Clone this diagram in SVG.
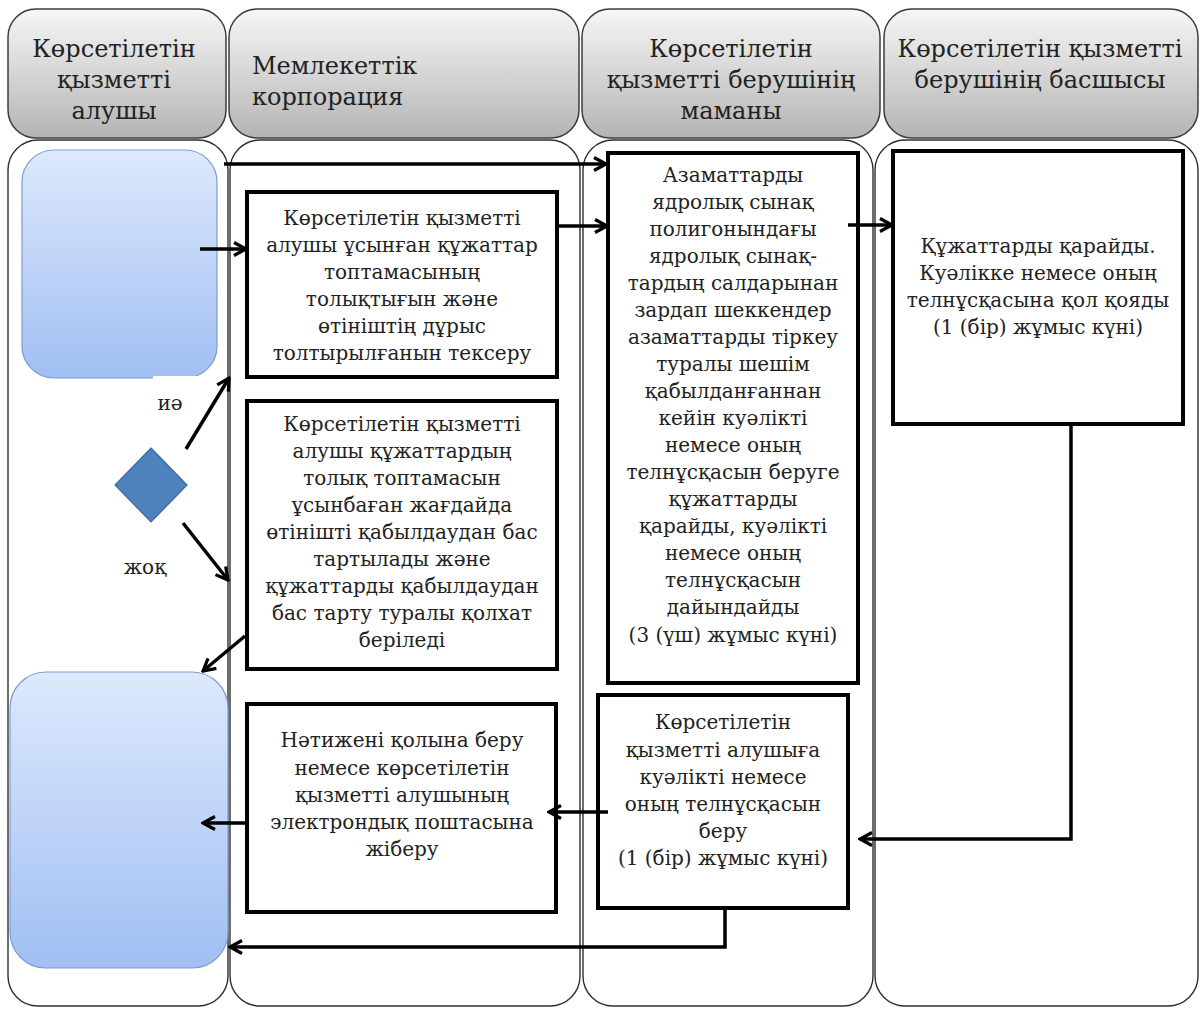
<svg xmlns="http://www.w3.org/2000/svg" width="1200" height="1009" viewBox="0 0 1200 1009">
  <defs>
    <linearGradient id="hdrFill" x1="0" y1="0" x2="0" y2="1">
      <stop offset="0" stop-color="#f7f7f7"/>
      <stop offset="1" stop-color="#b4b4b4"/>
    </linearGradient>
    <linearGradient id="blueFill" x1="0" y1="0" x2="0" y2="1">
      <stop offset="0" stop-color="#dde9fc"/>
      <stop offset="1" stop-color="#a1bff3"/>
    </linearGradient>
    <marker id="arrow" markerUnits="userSpaceOnUse" markerWidth="18" markerHeight="18" viewBox="0 0 18 18" refX="16" refY="9" orient="auto">
      <path d="M4,2.5 L16,9 L4,15.5" fill="none" stroke="#000" stroke-width="3.2" stroke-linejoin="miter"/>
    </marker>
    <style>
      .hdr { fill: url(#hdrFill); stroke: #3c3c3c; stroke-width: 1.5; }
      .lane { fill: #ffffff; stroke: #2f2f2f; stroke-width: 1.4; }
      .term { fill: url(#blueFill); stroke: #7d9ccc; stroke-width: 1.2; }
      .box { fill: #ffffff; stroke: #000; stroke-width: 4; }
      .dec { fill: #4f81bd; stroke: #3d6aa0; stroke-width: 1.2; }
      .conn { fill: none; stroke: #000; stroke-width: 3.5; }
      .ht { font-family: "DejaVu Serif", "Liberation Serif", serif; font-size: 24px; fill: #222; }
      .bt { font-family: "DejaVu Serif", "Liberation Serif", serif; font-size: 20px; fill: #222; text-anchor: middle; }
      .c { text-anchor: middle; }
    </style>
  </defs>

  <rect width="1200" height="1009" fill="#ffffff"/>

  <!-- swimlane headers -->
  <g id="header-recipient">
    <rect class="hdr" x="8" y="9" width="218" height="129" rx="28"/>
    <text class="ht c" x="114" y="57">Көрсетілетін</text>
    <text class="ht c" x="114" y="88">қызметті</text>
    <text class="ht c" x="114" y="119">алушы</text>
  </g>
  <g id="header-corporation">
    <rect class="hdr" x="229" y="9" width="350" height="129" rx="28"/>
    <text class="ht" x="252" y="74">Мемлекеттік</text>
    <text class="ht" x="252" y="105">корпорация</text>
  </g>
  <g id="header-specialist">
    <rect class="hdr" x="582" y="9" width="298" height="129" rx="28"/>
    <text class="ht c" x="731" y="57">Көрсетілетін</text>
    <text class="ht c" x="731" y="88">қызметті берушінің</text>
    <text class="ht c" x="731" y="119">маманы</text>
  </g>
  <g id="header-head">
    <rect class="hdr" x="884" y="9" width="314" height="129" rx="28"/>
    <text class="ht c" x="1040" y="57">Көрсетілетін қызметті</text>
    <text class="ht c" x="1040" y="88">берушінің басшысы</text>
  </g>

  <!-- swimlane bodies -->
  <g id="lane-recipient"><rect class="lane" x="8" y="140" width="220" height="866" rx="30"/></g>
  <g id="lane-corporation"><rect class="lane" x="230" y="140" width="350" height="866" rx="30"/></g>
  <g id="lane-specialist"><rect class="lane" x="583" y="140" width="290" height="866" rx="30"/></g>
  <g id="lane-head"><rect class="lane" x="875" y="140" width="323" height="866" rx="30"/></g>

  <!-- recipient start / end terminals -->
  <g id="start">
    <rect class="term" x="22" y="150" width="195" height="228" rx="32"/>
  </g>
  <g id="finish">
    <rect class="term" x="10" y="672" width="218" height="296" rx="36"/>
  </g>

  <!-- decision -->
  <g id="decision">
    <polygon class="dec" points="151,448 187,485 151,522 115,485"/>
  </g>
  <g id="label-yes">
    <rect x="153" y="376" width="44" height="42" fill="#ffffff"/>
    <text class="bt" x="170" y="410">иә</text>
  </g>
  <g id="label-no">
    <text class="bt" x="145" y="574">жоқ</text>
  </g>

  <!-- process boxes -->
  <g id="check-docs">
    <rect class="box" x="247" y="192" width="310" height="185"/>
    <text class="bt" x="402" y="225">Көрсетілетін қызметті</text>
    <text class="bt" x="402" y="252">алушы ұсынған құжаттар</text>
    <text class="bt" x="402" y="279">топтамасының</text>
    <text class="bt" x="402" y="306">толықтығын және</text>
    <text class="bt" x="402" y="333">өтініштің дұрыс</text>
    <text class="bt" x="402" y="360">толтырылғанын тексеру</text>
  </g>
  <g id="refusal">
    <rect class="box" x="247" y="401" width="310" height="268"/>
    <text class="bt" x="402" y="431">Көрсетілетін қызметті</text>
    <text class="bt" x="402" y="458">алушы құжаттардың</text>
    <text class="bt" x="402" y="485">толық топтамасын</text>
    <text class="bt" x="402" y="512">ұсынбаған жағдайда</text>
    <text class="bt" x="402" y="539">өтінішті қабылдаудан бас</text>
    <text class="bt" x="402" y="566">тартылады және</text>
    <text class="bt" x="402" y="593">құжаттарды қабылдаудан</text>
    <text class="bt" x="402" y="620">бас тарту туралы қолхат</text>
    <text class="bt" x="402" y="647">беріледі</text>
  </g>
  <g id="deliver-result">
    <rect class="box" x="247" y="704" width="309" height="208"/>
    <text class="bt" x="402" y="747">Нәтижені қолына беру</text>
    <text class="bt" x="402" y="775">немесе көрсетілетін</text>
    <text class="bt" x="402" y="802">қызметті алушының</text>
    <text class="bt" x="402" y="829">электрондық поштасына</text>
    <text class="bt" x="402" y="856">жіберу</text>
  </g>
  <g id="prepare-certificate">
    <rect class="box" x="608" y="153" width="250" height="530"/>
    <text class="bt" x="733" y="182">Азаматтарды</text>
    <text class="bt" x="733" y="209">ядролық сынақ</text>
    <text class="bt" x="733" y="236">полигонындағы</text>
    <text class="bt" x="733" y="263">ядролық сынақ-</text>
    <text class="bt" x="733" y="290">тардың салдарынан</text>
    <text class="bt" x="733" y="317">зардап шеккендер</text>
    <text class="bt" x="733" y="344">азаматтарды тіркеу</text>
    <text class="bt" x="733" y="371">туралы шешім</text>
    <text class="bt" x="733" y="398">қабылданғаннан</text>
    <text class="bt" x="733" y="425">кейін куәлікті</text>
    <text class="bt" x="733" y="452">немесе оның</text>
    <text class="bt" x="733" y="479">телнұсқасын беруге</text>
    <text class="bt" x="733" y="506">құжаттарды</text>
    <text class="bt" x="733" y="533">қарайды, куәлікті</text>
    <text class="bt" x="733" y="560">немесе оның</text>
    <text class="bt" x="733" y="587">телнұсқасын</text>
    <text class="bt" x="733" y="614">дайындайды</text>
    <text class="bt" x="733" y="642">(3 (үш) жұмыс күні)</text>
  </g>
  <g id="sign-certificate">
    <rect class="box" x="893" y="151" width="290" height="273"/>
    <text class="bt" x="1038" y="253">Құжаттарды қарайды.</text>
    <text class="bt" x="1038" y="280">Куәлікке немесе оның</text>
    <text class="bt" x="1038" y="307">телнұсқасына қол қояды</text>
    <text class="bt" x="1038" y="334">(1 (бір) жұмыс күні)</text>
  </g>
  <g id="issue-certificate">
    <rect class="box" x="598" y="695" width="250" height="213"/>
    <text class="bt" x="723" y="729">Көрсетілетін</text>
    <text class="bt" x="723" y="757">қызметті алушыға</text>
    <text class="bt" x="723" y="784">куәлікті немесе</text>
    <text class="bt" x="723" y="811">оның телнұсқасын</text>
    <text class="bt" x="723" y="838">беру</text>
    <text class="bt" x="723" y="865">(1 (бір) жұмыс күні)</text>
  </g>

  <!-- connectors -->
  <g id="connectors">
    <path class="conn" d="M224,164 H606" marker-end="url(#arrow)"/>
    <path class="conn" d="M200,249 H246" marker-end="url(#arrow)"/>
    <path class="conn" d="M557,226 H607" marker-end="url(#arrow)"/>
    <path class="conn" d="M848,225 H892" marker-end="url(#arrow)"/>
    <path class="conn" d="M186,449 L229,378" marker-end="url(#arrow)"/>
    <path class="conn" d="M183,523 L228,580" marker-end="url(#arrow)"/>
    <path class="conn" d="M245,636 L203,671" marker-end="url(#arrow)"/>
    <path class="conn" d="M1071,424 V839 H860" marker-end="url(#arrow)"/>
    <path class="conn" d="M608,812 H549" marker-end="url(#arrow)"/>
    <path class="conn" d="M246,823 H203" marker-end="url(#arrow)"/>
    <path class="conn" d="M725,908 V947 H230" marker-end="url(#arrow)"/>
  </g>
</svg>
